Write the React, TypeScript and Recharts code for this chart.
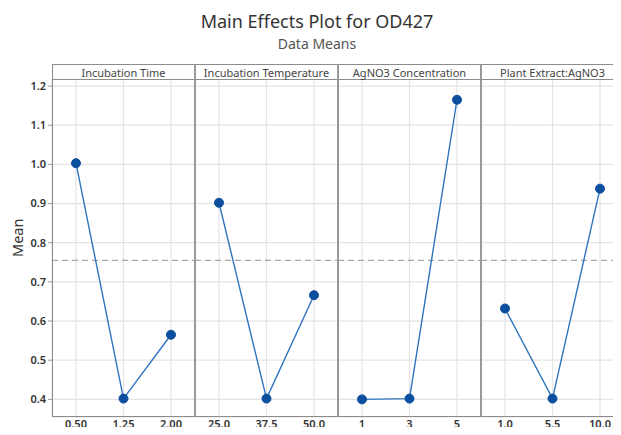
import { CartesianGrid, Line, LineChart, ReferenceLine, XAxis, YAxis } from "recharts";

const factorNames = ["Incubation Time", "Incubation Temperature", "AgNO3 Concentration", "Plant Extract:AgNO3"];

const timeLevels = ["0.50", "1.25", "2.00"];
const timeMeans = [1.003, 0.402, 0.565];
const tempLevels = ["25.0", "37.5", "50.0"];
const tempMeans = [0.902, 0.402, 0.666];
const concLevels = ["1", "3", "5"];
const concMeans = [0.4, 0.402, 1.165];
const ratioLevels = ["1.0", "5.5", "10.0"];
const ratioMeans = [0.632, 0.402, 0.938];

const grandMean = 0.755;
const yTicks = [0.4, 0.5, 0.6, 0.7, 0.8, 0.9, 1.0, 1.1, 1.2];
const yDomain = [0.355, 1.218];

const panels = [
  { levels: timeLevels, means: timeMeans },
  { levels: tempLevels, means: tempMeans },
  { levels: concLevels, means: concMeans },
  { levels: ratioLevels, means: ratioMeans },
];

const FONT = "'Noto Sans', 'Open Sans', sans-serif";
const PLOT_LEFT = 52;
const PANEL_W = 143;
const TOP = 64;
const HEADER_BOTTOM = 79;
const PLOT_BOTTOM = 417;
const BORDER = "#8c8c8c";
const TITLE_CX = 317;

function Panel({ index }: { index: number }) {
  const { levels, means } = panels[index];
  const data = levels.map((level, i) => ({ level, mean: means[i] }));
  const first = index === 0;
  const yw = first ? PLOT_LEFT : 0;

  return (
    <div style={{ position: "absolute", left: first ? 0 : PLOT_LEFT + PANEL_W * index, top: HEADER_BOTTOM }}>
      <LineChart width={PANEL_W + yw} height={435 - HEADER_BOTTOM} data={data} margin={{ top: 0, right: 0, bottom: 0, left: 0 }}>
        <CartesianGrid stroke="#e4e4e4" strokeWidth={1.2} />
        <XAxis
          dataKey="level"
          type="category"
          padding={{ left: 24, right: 24 }}
          height={18}
          axisLine={false}
          tickLine={false}
          tickSize={2}
          tickMargin={1}
          tick={{ fontSize: 11, fill: "#333", fontFamily: FONT, fontWeight: 600 }}
        />
        <YAxis
          type="number"
          domain={yDomain}
          ticks={yTicks}
          allowDataOverflow
          hide={!first}
          width={yw}
          axisLine={false}
          tickSize={4}
          tickLine={{ stroke: "#999" }}
          tickFormatter={(v: number) => v.toFixed(1)}
          tick={{ fontSize: 11, fill: "#333", fontFamily: FONT, fontWeight: 600 }}
        />
        <ReferenceLine y={grandMean} stroke="#a6a6a6" strokeWidth={1.3} strokeDasharray="6 4" />
        <Line
          type="linear"
          dataKey="mean"
          stroke="#2f74c0"
          strokeWidth={1.4}
          dot={{ r: 4.5, fill: "#0b4f9e", stroke: "#0b4f9e", strokeWidth: 1 }}
          isAnimationActive={false}
        />
      </LineChart>
    </div>
  );
}

export default function App() {
  return (
    <div style={{ position: "relative", width: 621, height: 435, margin: -8, overflow: "hidden", background: "#fff", fontFamily: FONT }}>
      <div
        style={{
          position: "absolute",
          left: TITLE_CX - 200,
          width: 400,
          top: 12,
          lineHeight: "18px",
          textAlign: "center",
          fontSize: 18,
          color: "#333",
        }}
      >
        Main Effects Plot for OD427
      </div>
      <div
        style={{
          position: "absolute",
          left: TITLE_CX - 100,
          width: 200,
          top: 37,
          lineHeight: "14px",
          textAlign: "center",
          fontSize: 14,
          color: "#555",
        }}
      >
        Data Means
      </div>
      <div
        style={{
          position: "absolute",
          left: 1,
          top: 241,
          width: 32,
          textAlign: "center",
          fontSize: 14.5,
          color: "#333",
          transform: "translate(0, -50%) rotate(-90deg)",
        }}
      >
        Mean
      </div>

      {panels.map((_, i) => (
        <Panel key={i} index={i} />
      ))}

      {/* strip headers and panel frames */}
      <div
        style={{
          position: "absolute",
          left: PLOT_LEFT,
          top: TOP,
          width: PANEL_W * 4,
          height: PLOT_BOTTOM - TOP,
          border: `1px solid ${BORDER}`,
          boxSizing: "border-box",
        }}
      />
      <div style={{ position: "absolute", left: PLOT_LEFT, top: HEADER_BOTTOM, width: PANEL_W * 4, height: 1, background: BORDER }} />
      {factorNames.map((name, i) => (
        <div key={name}>
          {i > 0 && (
            <div
              style={{
                position: "absolute",
                left: PLOT_LEFT + PANEL_W * i - 1,
                top: TOP,
                width: 2,
                height: PLOT_BOTTOM - TOP,
                background: "#999",
              }}
            />
          )}
          <div
            style={{
              position: "absolute",
              left: PLOT_LEFT + PANEL_W * i,
              top: TOP + 2,
              width: PANEL_W,
              height: HEADER_BOTTOM - TOP - 2,
              lineHeight: `${HEADER_BOTTOM - TOP - 2}px`,
              textAlign: "center",
              fontSize: 11,
              color: "#444",
              whiteSpace: "nowrap",
            }}
          >
            {name}
          </div>
        </div>
      ))}
    </div>
  );
}
